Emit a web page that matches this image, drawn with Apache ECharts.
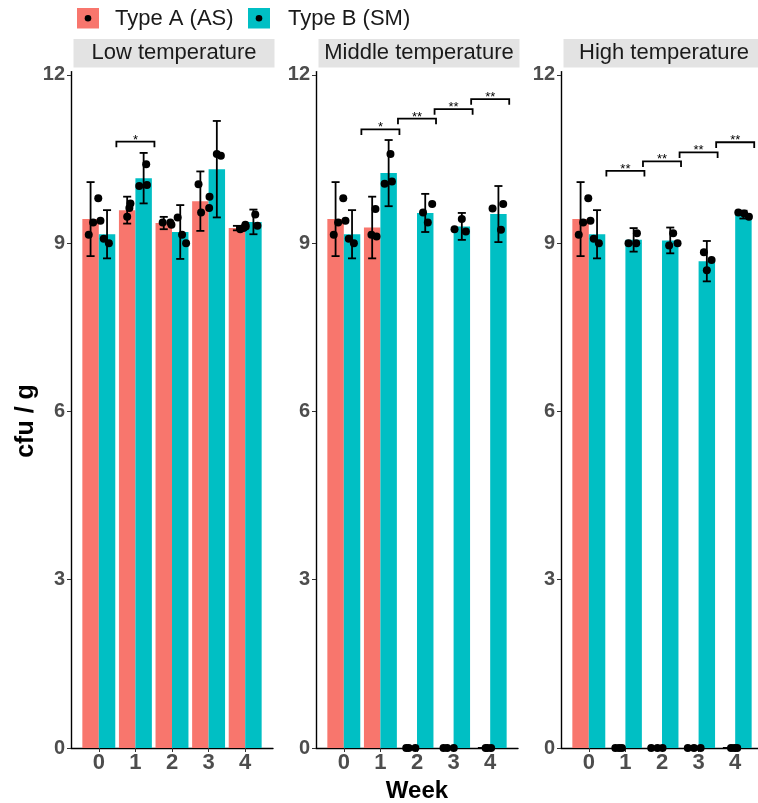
<!DOCTYPE html>
<html><head><meta charset="utf-8">
<script src="https://cdn.jsdelivr.net/npm/echarts@6/dist/echarts.min.js"></script>
<style>html,body{margin:0;padding:0;background:#fff}#c{width:758px;height:803px}</style>
</head><body><div id="c"></div>
<script>
// ---------- data ----------
const weeks = [0, 1, 2, 3, 4];
const panelTitles = ['Low temperature', 'Middle temperature', 'High temperature'];
const seriesNames = ['Type A (AS)', 'Type B (SM)'];
const yTicks = [0, 3, 6, 9, 12];

// Low temperature
const lowA = [9.43, 9.59, 9.36, 9.75, 9.27];
const lowA_sd = [0.66, 0.24, 0.11, 0.53, 0.04];
const lowB = [9.16, 10.16, 9.20, 10.32, 9.38];
const lowB_sd = [0.43, 0.45, 0.48, 0.86, 0.22];
const lowA_pts = [[9.15, 9.37, 9.80], [9.47, 9.63, 9.71], [9.37, 9.37, 9.33], [10.05, 9.55, 9.63], [9.25, 9.27, 9.30]];
const lowB_pts = [[9.40, 9.08, 9.00], [10.02, 10.04, 10.41], [9.46, 9.15, 9.00], [10.59, 10.56, 9.83], [9.51, 9.31, 9.33]];
const lowA_jit = [[-0.05, 0.07, 0.21], [0, 0.06, 0.09], [-0.03, 0.18, 0.21], [-0.05, 0.02, 0.24], [0.09, 0.18, 0.24]];
const lowB_jit = [[-0.18, -0.09, 0.05], [-0.12, 0.09, 0.07], [-0.07, 0.05, 0.16], [0, 0.11, -0.2], [0.05, 0.11, -0.22]];
const lowSig = [[1, 10.81, '*']];

// Middle temperature
const midA = [9.43, 9.28, 0, 0, 0];
const midA_sd = [0.66, 0.55, 0, 0, 0];
const midB = [9.16, 10.25, 9.54, 9.30, 9.52];
const midB_sd = [0.43, 0.59, 0.34, 0.24, 0.50];
const midA_pts = [[9.15, 9.37, 9.80], [9.15, 9.61, 9.12], [0, 0, 0], [0, 0, 0], [0, 0, 0]];
const midB_pts = [[9.40, 9.08, 9.00], [10.06, 10.10, 10.59], [9.55, 9.37, 9.70], [9.25, 9.43, 9.21], [9.62, 9.70, 9.24]];
const midA_jit = [[-0.05, 0.07, 0.21], [-0.02, 0.09, 0.12], [-0.07, 0.0, 0.18], [-0.05, 0.05, 0.23], [0.1, 0.15, 0.25]];
const midB_jit = [[-0.18, -0.09, 0.05], [-0.11, 0.09, 0.05], [-0.06, 0.07, 0.19], [-0.2, 0, 0.11], [-0.16, 0.13, 0.07]];
const midSig = [[1, 11.03, '*'], [2, 11.22, '**'], [3, 11.39, '**'], [4, 11.57, '**']];

// High temperature
const highA = [9.43, 0, 0, 0, 0];
const highA_sd = [0.66, 0, 0, 0, 0];
const highB = [9.16, 9.06, 9.05, 8.68, 9.51];
const highB_sd = [0.43, 0.21, 0.23, 0.36, 0.07];
const highA_pts = [[9.15, 9.37, 9.80], [0, 0, 0], [0, 0, 0], [0, 0, 0], [0, 0, 0]];
const highB_pts = [[9.40, 9.08, 9.00], [9.00, 9.18, 9.00], [8.96, 9.18, 9.00], [8.52, 8.70, 8.84], [9.55, 9.53, 9.47]];
const highA_jit = [[-0.05, 0.07, 0.21], [-0.05, 0.05, 0.13], [-0.07, 0.1, 0.24], [-0.07, 0.1, 0.28], [0.11, 0.2, 0.28]];
const highB_jit = [[-0.18, -0.09, 0.05], [-0.14, 0.09, 0.07], [-0.03, 0.08, 0.2], [0, 0.13, -0.08], [-0.14, 0.02, 0.15]];
const highSig = [[1, 10.29, '**'], [2, 10.46, '**'], [3, 10.62, '**'], [4, 10.80, '**']];

// ---------- layout / style ----------
const FONT = 'Liberation Sans';
const colA = '#F8766D', colB = '#00BFC4';
const gridLefts = [71, 316, 561];
const gridWidth = 202;
const gridTop = 71.6, gridBottom = 55;
const xMin = -0.76, xMax = 4.76, yMax = 12.06;
const dodge = 0.225;

const panels = [
  {A: lowA, Asd: lowA_sd, B: lowB, Bsd: lowB_sd, Ap: lowA_pts, Bp: lowB_pts, Aj: lowA_jit, Bj: lowB_jit, sig: lowSig},
  {A: midA, Asd: midA_sd, B: midB, Bsd: midB_sd, Ap: midA_pts, Bp: midB_pts, Aj: midA_jit, Bj: midB_jit, sig: midSig},
  {A: highA, Asd: highA_sd, B: highB, Bsd: highB_sd, Ap: highA_pts, Bp: highB_pts, Aj: highA_jit, Bj: highB_jit, sig: highSig}
];

function renderErr(params, api) {
  const x = api.value(0), m = api.value(1), s = api.value(2);
  const top = api.coord([x, m + s]), bot = api.coord([x, m - s]);
  const half = api.size([0.11, 0])[0];
  const style = {stroke: '#000', lineWidth: 1.8};
  return {type: 'group', children: [
    {type: 'line', shape: {x1: top[0], y1: top[1], x2: bot[0], y2: bot[1]}, style},
    {type: 'line', shape: {x1: top[0] - half, y1: top[1], x2: top[0] + half, y2: top[1]}, style},
    {type: 'line', shape: {x1: bot[0] - half, y1: bot[1], x2: bot[0] + half, y2: bot[1]}, style}
  ]};
}
function makeSigRenderer(sig) {
  return function (params, api) {
    const x = api.value(0), y = api.value(1);
    const label = sig[params.dataIndex][2];
    const l = api.coord([x - 0.52, y]), r = api.coord([x + 0.52, y]);
    const drop = api.coord([x, y - 0.1])[1];
    const c = api.coord([x, y]);
    return {type: 'group', children: [
      {type: 'polyline', shape: {points: [[l[0], drop], [l[0], l[1]], [r[0], r[1]], [r[0], drop]]},
        style: {stroke: '#000', lineWidth: 1.8, fill: null}},
      {type: 'text', x: c[0], y: c[1] + 5, style: {text: label, font: '13px ' + FONT, fill: '#000', align: 'center', verticalAlign: 'bottom'}}
    ]};
  };
}

const grid = [], xAxis = [], yAxis = [], series = [], title = [];
panels.forEach((p, i) => {
  grid.push({left: gridLefts[i], width: gridWidth, top: gridTop, bottom: gridBottom,
    containLabel: false, outerBoundsMode: 'none'});
  xAxis.push({
    type: 'value', gridIndex: i, min: xMin, max: xMax,
    axisLine: {show: true, onZero: false, lineStyle: {color: '#000', width: 1.4}},
    axisTick: {show: true, length: 4, customValues: weeks, lineStyle: {color: '#333'}},
    axisLabel: {customValues: weeks, fontSize: 22, fontWeight: 'bold', color: '#4d4d4d', fontFamily: FONT, margin: 4},
    splitLine: {show: false},
    name: i === 1 ? 'Week' : '', nameLocation: 'middle', nameGap: 27,
    nameTextStyle: {fontSize: 24, fontWeight: 'bold', color: '#000', fontFamily: FONT}
  });
  yAxis.push({
    type: 'value', gridIndex: i, min: 0, max: yMax,
    axisLine: {show: true, onZero: false, lineStyle: {color: '#000', width: 1.4}},
    axisTick: {show: true, length: 4, customValues: yTicks, lineStyle: {color: '#333'}},
    axisLabel: {customValues: yTicks, fontSize: 20, fontWeight: 'bold', color: '#4d4d4d', fontFamily: FONT, margin: 6},
    splitLine: {show: false}
  });
  title.push({
    left: gridLefts[i] + 2.5, top: 39, padding: 0,
    text: '{s|' + panelTitles[i] + '}',
    textStyle: {rich: {s: {width: 201, height: 28.5, lineHeight: 28.5, backgroundColor: '#e3e3e3',
      align: 'center', fontSize: 22, color: '#1a1a1a', fontFamily: FONT, fontWeight: 'normal'}}}
  });
  series.push({
    type: 'bar', name: seriesNames[0], xAxisIndex: i, yAxisIndex: i,
    barGap: '0%', barCategoryGap: '10%', itemStyle: {color: colA},
    data: weeks.map((w, k) => [w, p.A[k]]), z: 2
  });
  series.push({
    type: 'bar', name: seriesNames[1], xAxisIndex: i, yAxisIndex: i,
    barGap: '0%', barCategoryGap: '10%', itemStyle: {color: colB},
    data: weeks.map((w, k) => [w, p.B[k]]), z: 2
  });
  const err = [];
  weeks.forEach((w, k) => {
    err.push([w - dodge, p.A[k], p.Asd[k]]);
    err.push([w + dodge, p.B[k], p.Bsd[k]]);
  });
  series.push({type: 'custom', xAxisIndex: i, yAxisIndex: i, renderItem: renderErr, data: err, z: 3, clip: false});
  const pts = [];
  weeks.forEach((w, k) => {
    p.Ap[k].forEach((v, j) => pts.push([w - dodge + p.Aj[k][j], v]));
    p.Bp[k].forEach((v, j) => pts.push([w + dodge + p.Bj[k][j], v]));
  });
  series.push({type: 'scatter', xAxisIndex: i, yAxisIndex: i, symbolSize: 8, itemStyle: {color: '#000', opacity: 1},
    data: pts, z: 4, clip: false});
  series.push({type: 'custom', xAxisIndex: i, yAxisIndex: i, renderItem: makeSigRenderer(p.sig),
    data: p.sig.map(s => [s[0], s[1]]), z: 4, clip: false});
});

const legendItems = [];
seriesNames.forEach((n, i) => {
  const x0 = [77, 248][i];
  const tx = [115, 288][i];
  legendItems.push(
    {type: 'rect', shape: {x: x0, y: 8, width: 22, height: 20.5}, style: {fill: i ? colB : colA}},
    {type: 'circle', shape: {cx: x0 + 11, cy: 18.2, r: 3.3}, style: {fill: '#000'}},
    {type: 'text', x: tx, y: 18.5, style: {text: n, font: '22px ' + FONT, fill: '#1a1a1a', verticalAlign: 'middle'}}
  );
});

const option = {
  animation: false,
  backgroundColor: '#fff',
  title, grid, xAxis, yAxis, series,
  graphic: [
    ...legendItems,
    {type: 'text', x: 26, y: 421, rotation: Math.PI / 2,
      style: {text: 'cfu / g', font: 'bold 25px ' + FONT, fill: '#000', align: 'center', verticalAlign: 'middle'}}
  ]
};
const chart = echarts.init(document.getElementById('c'), null, {renderer: 'canvas'});
chart.setOption(option);
</script>
</body></html>
